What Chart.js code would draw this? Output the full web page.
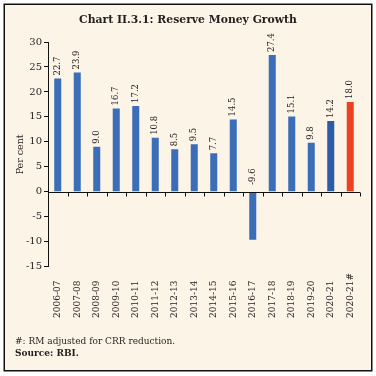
<!DOCTYPE html>
<html>
<head>
<meta charset="utf-8">
<script src="https://cdn.jsdelivr.net/npm/chart.js@4"></script>
<style>
html,body{margin:0;padding:0;background:#fff;}
#wrap{width:376px;height:376px;position:relative;}
</style>
</head>
<body>
<div id="wrap"><canvas id="c" width="376" height="376"></canvas></div>
<script>
const categories = ["2006-07","2007-08","2008-09","2009-10","2010-11","2011-12","2012-13","2013-14","2014-15","2015-16","2016-17","2017-18","2018-19","2019-20","2020-21","2020-21#"];
const growth = [22.7, 23.9, 9.0, 16.7, 17.2, 10.8, 8.5, 9.5, 7.7, 14.5, -9.6, 27.4, 15.1, 9.8, 14.2, 18.0];
const barColors = ["#3B6DB8","#3B6DB8","#3B6DB8","#3B6DB8","#3B6DB8","#3B6DB8","#3B6DB8","#3B6DB8","#3B6DB8","#3B6DB8","#3B6DB8","#3B6DB8","#3B6DB8","#3B6DB8","#2D5CA6","#EE4124"];
const yTicks = {min: -15, max: 30, step: 5};
const titleText = "Chart II.3.1: Reserve Money Growth";
const yTitle = "Per cent";
const footnote = "#: RM adjusted for CRR reduction.";
const sourceText = "Source: RBI.";

const TEXT = "#231F20";
const SERIF = "'DejaVu Serif', serif";

const decor = {
  id: 'decor',
  beforeDraw(chart) {
    const ctx = chart.ctx;
    ctx.save();
    ctx.fillStyle = "#fff";
    ctx.fillRect(0, 0, 376, 376);
    ctx.fillStyle = "#FBF4E7";
    ctx.fillRect(4, 4, 368, 367);
    ctx.strokeStyle = "#111";
    ctx.lineWidth = 1.5;
    ctx.strokeRect(4.25, 4.25, 367.5, 366.5);
    ctx.restore();
  },
  afterDatasetsDraw(chart) {
    const ctx = chart.ctx;
    const xs = chart.scales.x, ys = chart.scales.y;
    const area = chart.chartArea;
    ctx.save();
    // zero axis line with category boundary ticks
    const y0 = Math.round(ys.getPixelForValue(0)) + 0.5;
    ctx.strokeStyle = "#111";
    ctx.lineWidth = 1;
    ctx.beginPath();
    ctx.moveTo(area.left, y0);
    ctx.lineTo(area.right, y0);
    for (let i = 0; i < categories.length; i++) {
      const xc = xs.getPixelForValue(i);
      const half = (xs.getPixelForValue(1) - xs.getPixelForValue(0)) / 2;
      const xb = Math.round(xc + half) + 0.5;
      ctx.moveTo(xb, y0);
      ctx.lineTo(xb, y0 + 4);
    }
    ctx.stroke();

    // data labels
    ctx.fillStyle = TEXT;
    ctx.font = "8.5px " + SERIF;
    ctx.textBaseline = "middle";
    ctx.textAlign = "left";
    growth.forEach((v, i) => {
      const x = xs.getPixelForValue(i);
      const y = v >= 0 ? ys.getPixelForValue(v) - 3 : ys.getPixelForValue(0) - 7;
      ctx.save();
      ctx.translate(x, y);
      ctx.rotate(-Math.PI / 2);
      ctx.fillText(v.toFixed(1), 0, 0);
      ctx.restore();
    });

    // category labels (rotated, bottom-aligned)
    ctx.font = "9px " + SERIF;
    categories.forEach((c, i) => {
      const x = xs.getPixelForValue(i);
      ctx.save();
      ctx.translate(x, 318);
      ctx.rotate(-Math.PI / 2);
      ctx.fillText(c, 0, 0);
      ctx.restore();
    });

    // title
    ctx.textAlign = "center";
    ctx.font = "bold 10.8px " + SERIF;
    ctx.fillText(titleText, 188, 20);

    // footnotes
    ctx.textAlign = "left";
    ctx.font = "9px " + SERIF;
    ctx.fillText(footnote, 15, 342);
    ctx.font = "bold 9px " + SERIF;
    ctx.fillText(sourceText, 15, 354);
    ctx.restore();
  }
};

new Chart(document.getElementById('c'), {
  type: 'bar',
  data: {
    labels: categories,
    datasets: [{
      data: growth,
      backgroundColor: barColors,
      borderWidth: 0,
      categoryPercentage: 1.0,
      barPercentage: 0.36
    }]
  },
  options: {
    responsive: false,
    animation: false,
    devicePixelRatio: 1,
    layout: {padding: {top: 42, left: 4, right: 16, bottom: 109.3}},
    plugins: {legend: {display: false}, title: {display: false}, tooltip: {enabled: false}},
    scales: {
      x: {display: false, offset: true},
      y: {
        min: yTicks.min, max: yTicks.max,
        afterFit(scale) { scale.width = 44; },
        ticks: {stepSize: yTicks.step, color: TEXT, font: {family: SERIF, size: 10}, padding: 2},
        grid: {drawOnChartArea: false, tickLength: 4, color: "#111"},
        border: {color: "#111", width: 1},
        title: {display: true, text: yTitle, color: TEXT, font: {family: SERIF, size: 9.5}, padding: {top: 11, bottom: 0}}
      }
    }
  },
  plugins: [decor]
});
</script>
</body>
</html>
